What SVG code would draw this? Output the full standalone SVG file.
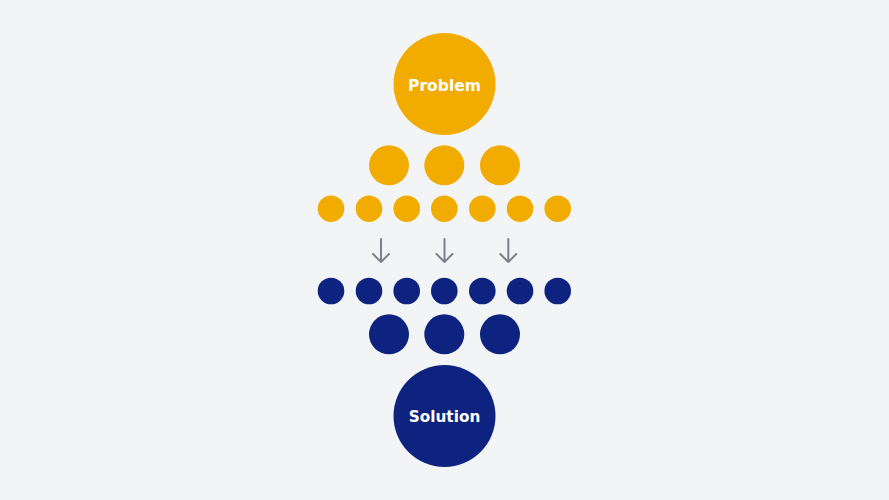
<svg xmlns="http://www.w3.org/2000/svg" width="889" height="500" viewBox="0 0 889 500">
<style>
.o{fill:#F2AC00}
.b{fill:#0D237F}
.t{font-family:"DejaVu Sans","Liberation Sans",sans-serif;font-weight:bold;font-size:16px;fill:#FFFFFF;text-anchor:middle}
.a{stroke:#7B808B;stroke-width:2;fill:none;stroke-linecap:round;stroke-linejoin:round}
</style>
<rect width="889" height="500" fill="#F3F4F6"/>
<g id="problem"><circle class="o" cx="444.5" cy="84" r="51"/><text class="t" x="444.5" y="90.7" textLength="73" lengthAdjust="spacingAndGlyphs">Problem</text></g>
<g id="orange-medium">
<circle class="o" cx="389" cy="165.3" r="20"/>
<circle class="o" cx="444.3" cy="165.3" r="20"/>
<circle class="o" cx="500" cy="165.3" r="20"/>
</g>
<g id="orange-small">
<circle class="o" cx="331" cy="208.7" r="13.3"/>
<circle class="o" cx="369" cy="208.7" r="13.3"/>
<circle class="o" cx="406.7" cy="208.7" r="13.3"/>
<circle class="o" cx="444.3" cy="208.7" r="13.3"/>
<circle class="o" cx="482.3" cy="208.7" r="13.3"/>
<circle class="o" cx="520" cy="208.7" r="13.3"/>
<circle class="o" cx="557.7" cy="208.7" r="13.3"/>
</g>
<g id="connectors">
<path class="a" d="M381 239V262M373 254L381 262L389 254"/>
<path class="a" d="M444.5 239V262M436.5 254L444.5 262L452.5 254"/>
<path class="a" d="M508.3 239V262M500.3 254L508.3 262L516.3 254"/>
</g>
<g id="blue-small">
<circle class="b" cx="331" cy="291" r="13.3"/>
<circle class="b" cx="369" cy="291" r="13.3"/>
<circle class="b" cx="406.7" cy="291" r="13.3"/>
<circle class="b" cx="444.3" cy="291" r="13.3"/>
<circle class="b" cx="482.3" cy="291" r="13.3"/>
<circle class="b" cx="520" cy="291" r="13.3"/>
<circle class="b" cx="557.7" cy="291" r="13.3"/>
</g>
<g id="blue-medium">
<circle class="b" cx="389" cy="334.3" r="20"/>
<circle class="b" cx="444.3" cy="334.3" r="20"/>
<circle class="b" cx="500" cy="334.3" r="20"/>
</g>
<g id="solution"><circle class="b" cx="444.5" cy="416" r="51"/><text class="t" x="444.5" y="421.7" textLength="71.5" lengthAdjust="spacingAndGlyphs">Solution</text></g>
</svg>
